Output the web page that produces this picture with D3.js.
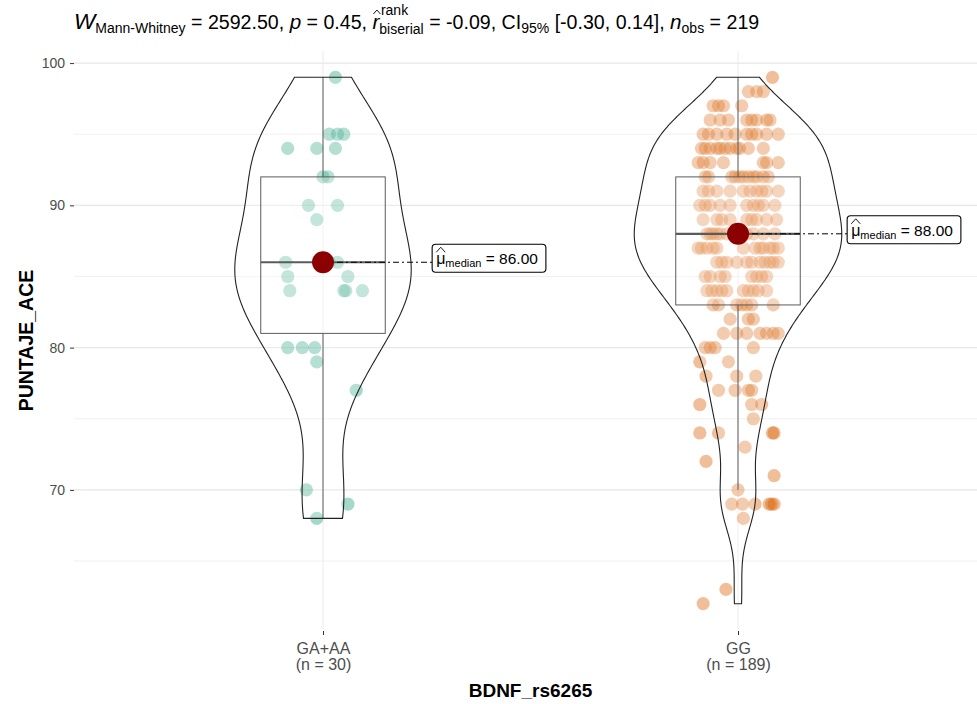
<!DOCTYPE html>
<html>
<head>
<meta charset="utf-8">
<script src="https://cdn.jsdelivr.net/npm/d3@7/dist/d3.min.js"></script>
<style>
  body { margin: 0; background: #ffffff; }
  text { font-family: "Liberation Sans", Arial, sans-serif; }
</style>
</head>
<body>
<svg id="chart" width="977" height="704"></svg>
<script>
// ---- data -------------------------------------------------------------
const groups = ["GA+AA", "GG"];
const groupColors = ["#1B9E77", "#D95F02"];

// PUNTAJE_ACE scores for the GA+AA carriers, with each point's horizontal jitter (category units)
const gaaaScores = [
  99,
  95, 95, 95,
  94, 94, 94,
  92, 92,
  90, 90,
  89,
  86, 86, 86, 86,
  85, 85,
  84, 84, 84, 84,
  80, 80, 80,
  79, 77, 70, 69, 68
];
const gaaaJitter = [
  0.03,
  0.015, 0.035, 0.05,
  -0.085, -0.015, 0.03,
  0.0, 0.012,
  -0.035, 0.035,
  -0.015,
  -0.09, 0.035, 0.0, 0.015,
  -0.085, 0.06,
  -0.08, 0.05, 0.055, 0.095,
  -0.085, -0.05, -0.02,
  -0.015, 0.08, -0.04, 0.06, -0.015
];

// PUNTAJE_ACE scores for the GG homozygotes, with jitter
const ggScores = [
  99,
  98, 98, 98,
  97, 97, 97, 97,
  96, 96, 96, 96, 96, 96, 96, 96,
  95, 95, 95, 95, 95, 95, 95, 95, 95, 95,
  94, 94, 94, 94, 94, 94, 94, 94, 94, 94, 94,
  93, 93, 93, 93, 93, 93, 93,
  92, 92, 92, 92, 92, 92, 92, 92, 92, 92, 92,
  91, 91, 91, 91, 91, 91, 91, 91, 91, 91,
  90, 90, 90, 90, 90, 90, 90, 90, 90, 90,
  89, 89, 89, 89, 89, 89, 89, 89, 89,
  88, 88, 88, 88, 88, 88, 88, 88, 88, 88, 88, 88, 88,
  87, 87, 87, 87, 87, 87, 87, 87, 87, 87, 87, 87,
  86, 86, 86, 86, 86, 86, 86, 86, 86, 86, 86,
  85, 85, 85, 85, 85, 85, 85, 85,
  84, 84, 84, 84, 84, 84, 84, 84, 84, 84,
  83, 83, 83, 83, 83, 83, 83,
  82, 82, 82,
  81, 81, 81, 81, 81, 81, 81,
  80, 80, 80, 80,
  79, 79,
  78, 78, 78,
  77, 77, 77, 77,
  76, 76, 76,
  75,
  74, 74, 74, 74,
  73, 72, 71, 70,
  69, 69, 69, 69, 69, 69,
  68, 63, 62
];
const ggJitter = [
  0.083,
  0.025, 0.045, 0.061,
  -0.06, -0.035, 0.009, -0.047,
  -0.067, -0.023, 0.021, 0.033, 0.045, 0.077, 0.069, -0.043,
  -0.084, -0.051, -0.027, -0.007, 0.021, 0.045, 0.069, 0.097, 0.033, -0.071,
  -0.088, -0.067, -0.043, -0.019, 0.004, 0.025, 0.061, -0.079, -0.051, -0.031, -0.003,
  -0.096, -0.067, -0.035, 0.061, 0.097, 0.069, -0.084,
  -0.079, -0.007, 0.013, 0.037, 0.073, 0.004, 0.025, 0.045, -0.015, -0.071, 0.061,
  -0.084, -0.051, -0.019, 0.013, 0.045, 0.069, 0.097, -0.071, 0.029, 0.057,
  -0.092, -0.067, -0.043, -0.019, 0.021, 0.061, -0.079, 0.037, 0.049, 0.089,
  -0.084, -0.051, -0.019, 0.021, 0.045, 0.093, -0.039, 0.033, 0.069,
  -0.075, -0.067, -0.06, -0.043, 0.037, 0.061, 0.089, -0.007, 0.0, 0.009, -0.051, -0.027, 0.021,
  -0.096, -0.075, -0.051, 0.013, 0.053, 0.077, 0.097, -0.088, 0.041, 0.061, 0.085, -0.06,
  -0.051, -0.027, -0.003, 0.021, 0.053, 0.077, 0.097, -0.039, 0.033, 0.065, 0.085,
  -0.079, -0.043, 0.045, 0.069, -0.067, 0.057, -0.031, 0.033,
  -0.075, -0.051, -0.027, 0.013, 0.037, 0.069, -0.039, 0.025, -0.063, 0.049,
  -0.06, -0.003, 0.021, 0.085, 0.009, 0.033, -0.047,
  -0.019, 0.025, 0.037,
  -0.035, -0.003, 0.021, 0.053, 0.069, 0.085, 0.097,
  -0.079, -0.067, -0.055, 0.037,
  -0.092, -0.023,
  -0.077, -0.003, 0.043,
  -0.047, -0.007, 0.025, 0.033,
  -0.092, 0.033, 0.057,
  0.037,
  -0.092, -0.047, 0.087, 0.083,
  0.017, -0.077, 0.087, 0.0,
  -0.015, 0.011, 0.041, 0.075, 0.087, 0.081,
  0.013, -0.029, -0.084
];

const yTicks = [70, 80, 90, 100];
const yMinorTicks = [65, 75, 85, 95];

// Mann-Whitney summary shown as the subtitle
const testStats = ["2592.50", "0.45", "-0.09", "[-0.30, 0.14]", "219"];

const xTitle = "BDNF_rs6265";
const yTitle = "PUNTAJE_ACE";

// ---- layout -----------------------------------------------------------
const W = 977, H = 704;
const panel = { left: 74, right: 987, top: 51, bottom: 630 };
const svg = d3.select("#chart");

const sets = [
  { name: groups[0], scores: gaaaScores, jitter: gaaaJitter, color: groupColors[0] },
  { name: groups[1], scores: ggScores, jitter: ggJitter, color: groupColors[1] }
];

const allScores = gaaaScores.concat(ggScores);
const [lo, hi] = d3.extent(allScores);
const expand = (hi - lo) * 0.05;

const y = d3.scaleLinear().domain([lo - expand, hi + expand]).range([panel.bottom, panel.top]);
const x = d3.scalePoint().domain(groups).range([panel.left, panel.right]).padding(0.6);
const unit = x.step();

// ---- grid -------------------------------------------------------------
const grid = svg.append("g");
grid.selectAll(".minor").data(yMinorTicks).join("line")
  .attr("x1", panel.left).attr("x2", panel.right)
  .attr("y1", d => y(d)).attr("y2", d => y(d))
  .attr("stroke", "#F0F0F0").attr("stroke-width", 1);
grid.selectAll(".major").data(yTicks).join("line")
  .attr("x1", panel.left).attr("x2", panel.right)
  .attr("y1", d => y(d)).attr("y2", d => y(d))
  .attr("stroke", "#E6E6E6").attr("stroke-width", 1.1);
grid.selectAll(".vmajor").data(groups).join("line")
  .attr("x1", d => x(d)).attr("x2", d => x(d))
  .attr("y1", panel.top).attr("y2", panel.bottom)
  .attr("stroke", "#EDEDED").attr("stroke-width", 1.1);

// ---- axes -------------------------------------------------------------
const yAxis = svg.append("g")
  .attr("transform", `translate(${panel.left},0)`)
  .call(d3.axisLeft(y).tickValues(yTicks).tickSize(4).tickPadding(5));
yAxis.select(".domain").remove();
yAxis.selectAll("line").attr("stroke", "#333333").attr("stroke-width", 1);
yAxis.selectAll("text")
  .attr("fill", "#4D4D4D").attr("font-size", 14)
  .style("font-family", "'Liberation Sans', Arial, sans-serif");

const counts = sets.map(s => s.scores.length);
const xAxis = svg.append("g")
  .attr("transform", `translate(0,${panel.bottom + 1})`)
  .call(d3.axisBottom(x).tickSize(4).tickFormat(""));
xAxis.select(".domain").remove();
xAxis.selectAll("line").attr("stroke", "#333333").attr("stroke-width", 1);
// two-line category labels: genotype and group size
xAxis.selectAll(".tick").each(function(d, i) {
  const tick = d3.select(this);
  tick.select("text").remove();
  [d, `(n = ${counts[i]})`].forEach((line, k) => {
    tick.append("text")
      .attr("x", 0).attr("y", 23 + k * 16)
      .attr("text-anchor", "middle")
      .attr("fill", "#4D4D4D").attr("font-size", 16)
      .style("font-family", "'Liberation Sans', Arial, sans-serif")
      .text(line);
  });
});

svg.append("text")
  .attr("x", (panel.left + panel.right) / 2).attr("y", 697)
  .attr("text-anchor", "middle").attr("font-size", 19).attr("font-weight", "bold")
  .attr("fill", "#000").text(xTitle);

svg.append("text")
  .attr("transform", `translate(33,${(panel.top + panel.bottom) / 2}) rotate(-90)`)
  .attr("text-anchor", "middle").attr("font-size", 19.5).attr("font-weight", "bold")
  .attr("fill", "#000").text(yTitle);

// ---- statistics helpers ----------------------------------------------
function summary(v) {
  const s = v.slice().sort(d3.ascending);
  const q1 = d3.quantile(s, 0.25), med = d3.quantile(s, 0.5), q3 = d3.quantile(s, 0.75);
  const iqr = q3 - q1;
  const upper = d3.max(s.filter(d => d <= q3 + 1.5 * iqr));
  const lower = d3.min(s.filter(d => d >= q1 - 1.5 * iqr));
  return { q1, med, q3, lower, upper };
}
function bandwidth(v) {
  const s = v.slice().sort(d3.ascending);
  const sd = d3.deviation(s);
  const iqr = d3.quantile(s, 0.75) - d3.quantile(s, 0.25);
  return 0.9 * Math.min(sd, iqr / 1.34) * Math.pow(s.length, -0.2);
}
function density(v, bw) {
  const [a, b] = d3.extent(v);
  const norm = 1 / (bw * Math.sqrt(2 * Math.PI));
  return d3.range(512).map(i => {
    const t = a + (b - a) * i / 511;
    return [t, d3.mean(v, s => Math.exp(-0.5 * ((t - s) / bw) ** 2)) * norm];
  });
}

sets.forEach(s => {
  s.stats = summary(s.scores);
  s.dens = density(s.scores, bandwidth(s.scores));
});
const maxDens = d3.max(sets, s => d3.max(s.dens, d => d[1]));
const violinHalf = 0.25 * unit;   // violin width 0.5
const boxHalf = 0.15 * unit;      // box width 0.3

// ---- jittered points ---------------------------------------------------
sets.forEach(s => {
  svg.append("g").selectAll("circle")
    .data(s.scores.map((v, i) => [v, s.jitter[i]]))
    .join("circle")
    .attr("cx", d => x(s.name) + d[1] * unit)
    .attr("cy", d => y(d[0]))
    .attr("r", 6.6)
    .attr("fill", s.color)
    .attr("fill-opacity", 0.4);
});

// ---- boxplots ---------------------------------------------------------
sets.forEach(s => {
  const cx = x(s.name), st = s.stats;
  const g = svg.append("g").attr("stroke", "#333333").attr("fill", "none");
  g.append("line").attr("x1", cx).attr("x2", cx).attr("y1", y(st.upper)).attr("y2", y(st.q3)).attr("stroke-width", 1);
  g.append("line").attr("x1", cx).attr("x2", cx).attr("y1", y(st.q1)).attr("y2", y(st.lower)).attr("stroke-width", 1);
  g.append("rect")
    .attr("x", cx - boxHalf).attr("y", y(st.q3))
    .attr("width", 2 * boxHalf).attr("height", y(st.q1) - y(st.q3))
    .attr("fill", "#ffffff").attr("fill-opacity", 0.2).attr("stroke-width", 1);
  g.append("line")
    .attr("x1", cx - boxHalf).attr("x2", cx + boxHalf)
    .attr("y1", y(st.med)).attr("y2", y(st.med))
    .attr("stroke-width", 2.2);
});

// ---- violins ------------------------------------------------------------
sets.forEach(s => {
  const cx = x(s.name);
  const area = d3.area()
    .x0(d => cx - violinHalf * d[1] / maxDens)
    .x1(d => cx + violinHalf * d[1] / maxDens)
    .y(d => y(d[0]));
  svg.append("path")
    .attr("d", area(s.dens))
    .attr("fill", "#ffffff").attr("fill-opacity", 0.2)
    .attr("stroke", "#222222").attr("stroke-width", 1.1);
});

// ---- rich-text helper ---------------------------------------------------
// Lays out text runs left to right; a "stack" run puts a superscript
// (with a caret over the preceding glyph) above a subscript.
function rich(g, x0, base, parts) {
  let cx = x0, prev = null;
  parts.forEach(p => {
    if (p.stack) {
      const hx = prev.x + prev.w / 2 + 1;
      const hy = base + p.supDy - 4;
      g.append("path")
        .attr("d", `M${hx - 3.5},${hy + 3} L${hx},${hy - 1} L${hx + 3.5},${hy + 3}`)
        .attr("fill", "none").attr("stroke", "#000").attr("stroke-width", 0.9);
      const sup = g.append("text").attr("x", hx + 4).attr("y", base + p.supDy)
        .attr("font-size", p.size).attr("fill", "#000").text(p.sup);
      const sub = g.append("text").attr("x", cx).attr("y", base + p.subDy)
        .attr("font-size", p.size).attr("fill", "#000").text(p.sub);
      const w1 = hx + 4 + sup.node().getComputedTextLength() - cx;
      const w2 = sub.node().getComputedTextLength();
      cx += Math.max(w1, w2);
      return;
    }
    const t = g.append("text").attr("x", cx).attr("y", base + (p.dy || 0))
      .attr("font-size", p.size).attr("fill", "#000")
      .attr("font-style", p.italic ? "italic" : null)
      .attr("xml:space", "preserve").style("white-space", "pre")
      .text(p.text);
    p.x = cx;
    p.w = t.node().getComputedTextLength();
    cx += p.w;
    prev = p;
  });
  return cx;
}

// ---- subtitle ----------------------------------------------------------
const fs = 19.6, fsSub = 14;
const titleG = svg.append("g");
rich(titleG, 74, 29, [
  { text: "W", italic: true, size: fs + 3 },
  { text: "Mann-Whitney", size: fsSub, dy: 4 },
  { text: ` = ${testStats[0]}, `, size: fs },
  { text: "p", italic: true, size: fs + 1 },
  { text: ` = ${testStats[1]}, `, size: fs },
  { text: "r", italic: true, size: fs + 1 },
  { stack: true, sup: "rank", sub: "biserial", size: fsSub, supDy: -14, subDy: 5 },
  { text: ` = ${testStats[2]}, CI`, size: fs },
  { text: "95%", size: fsSub, dy: 4 },
  { text: ` ${testStats[3]}, `, size: fs },
  { text: "n", italic: true, size: fs + 1 },
  { text: "obs", size: fsSub, dy: 4 },
  { text: ` = ${testStats[4]}`, size: fs }
]);

// ---- centrality markers and labels ---------------------------------------
sets.forEach(s => {
  const cx = x(s.name), cy = y(s.stats.med);
  const boxLeft = cx + 0.263 * unit;
  const g = svg.append("g");
  g.append("line")
    .attr("x1", cx).attr("x2", boxLeft).attr("y1", cy).attr("y2", cy)
    .attr("stroke", "#000").attr("stroke-width", 1)
    .attr("stroke-dasharray", "6,3,2,3");
  g.append("circle").attr("cx", cx).attr("cy", cy).attr("r", 11).attr("fill", "#8B0000");

  const rect = g.append("rect");
  const tg = g.append("g");
  const mu = { text: "\u03BC", size: 16 };
  const end = rich(tg, boxLeft + 4, cy + 2, [
    mu,
    { text: "median", size: 11, dy: 3 },
    { text: ` = ${s.stats.med.toFixed(2)}`, size: 15.5 }
  ]);
  // hat over mu
  const hx = mu.x + mu.w / 2;
  tg.append("path")
    .attr("d", `M${hx - 4.5},${cy - 10} L${hx},${cy - 15} L${hx + 4.5},${cy - 10}`)
    .attr("fill", "none").attr("stroke", "#000").attr("stroke-width", 0.9);
  rect.attr("x", boxLeft).attr("y", cy - 18)
    .attr("width", end + 8 - boxLeft).attr("height", 28)
    .attr("rx", 3.5).attr("ry", 3.5)
    .attr("fill", "#ffffff").attr("stroke", "#000").attr("stroke-width", 1.1);
});
</script>
</body>
</html>
